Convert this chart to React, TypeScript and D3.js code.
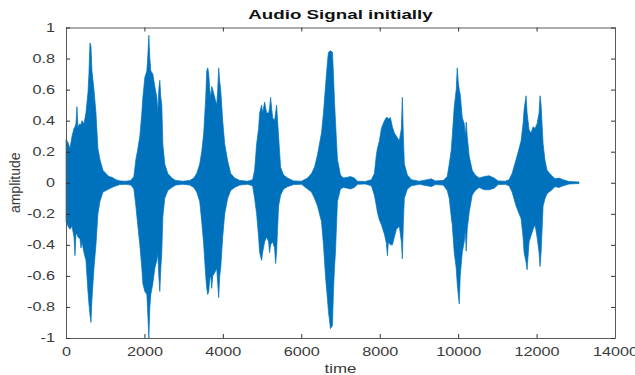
import React, { useEffect, useRef } from 'react';
import * as d3 from 'd3';

// envelope of the waveform (sample index, max, min)
const sampleTime = [
  0, 51, 102, 153, 204, 229, 254, 280, 305, 356, 382, 407, 458, 509, 560, 585, 611, 636, 662, 713, 764, 814, 865, 942, 1018, 1094, 1171, 1273, 1374, 1527, 1654,
  1731, 1782, 1833, 1883, 1934, 1960, 2011, 2062, 2087, 2113, 2138, 2163, 2214, 2265, 2316, 2341, 2367, 2392, 2418, 2443, 2469, 2519, 2596, 2698, 2799, 2978, 3156, 3258,
  3334, 3410, 3461, 3512, 3563, 3589, 3614, 3640, 3665, 3691, 3716, 3741, 3792, 3843, 3869, 3894, 3920, 3945, 3996, 4047, 4123, 4199, 4301, 4429, 4632, 4759,
  4810, 4861, 4912, 4938, 4988, 5014, 5065, 5116, 5166, 5192, 5217, 5268, 5319, 5345, 5370, 5395, 5421, 5472, 5548, 5650, 5803, 6006, 6159,
  6261, 6337, 6414, 6515, 6566, 6617, 6668, 6693, 6744, 6795, 6820, 6846, 6871, 6922, 6999, 7075, 7177, 7253, 7355, 7431, 7635, 7788,
  7864, 7915, 7941, 7992, 8043, 8119, 8170, 8196, 8221, 8272, 8323, 8374, 8425, 8501, 8552, 8577, 8603, 8628, 8705, 8806, 9010, 9213, 9315, 9417, 9620,
  9722, 9773, 9824, 9850, 9901, 9951, 9977, 10002, 10028, 10053, 10104, 10155, 10181, 10206, 10231, 10282, 10359, 10435, 10537, 10664, 10791, 10919, 11020, 11198, 11300,
  11376, 11478, 11554, 11605, 11656, 11682, 11732, 11758, 11809, 11860, 11911, 11962, 12013, 12064, 12089, 12115, 12166, 12217, 12268, 12370, 12471, 12573, 12675, 12828, 13082,
];

const upperEnv = [
  0.28, 0.26, 0.22, 0.3, 0.35, 0.36, 0.38, 0.49, 0.36, 0.38, 0.37, 0.4, 0.38, 0.45, 0.58, 0.7, 0.9, 0.88, 0.72, 0.6, 0.45, 0.22, 0.15, 0.08, 0.06, 0.04, 0.035, 0.02, 0.012, 0.01, 0.015,
  0.04, 0.15, 0.22, 0.3, 0.45, 0.55, 0.68, 0.72, 0.82, 0.95, 0.8, 0.72, 0.7, 0.62, 0.55, 0.45, 0.6, 0.66, 0.55, 0.5, 0.25, 0.12, 0.06, 0.03, 0.015, 0.01, 0.015, 0.03,
  0.06, 0.12, 0.2, 0.32, 0.55, 0.72, 0.74, 0.7, 0.6, 0.55, 0.62, 0.6, 0.55, 0.5, 0.6, 0.74, 0.65, 0.6, 0.4, 0.25, 0.14, 0.06, 0.03, 0.015, 0.01, 0.02,
  0.08, 0.25, 0.35, 0.45, 0.5, 0.45, 0.52, 0.45, 0.45, 0.48, 0.55, 0.42, 0.4, 0.45, 0.5, 0.4, 0.3, 0.1, 0.05, 0.03, 0.012, 0.01, 0.03,
  0.06, 0.1, 0.18, 0.32, 0.45, 0.62, 0.78, 0.84, 0.85, 0.84, 0.7, 0.53, 0.4, 0.15, 0.05, 0.03, 0.035, 0.04, 0.03, 0.01, 0.008, 0.02,
  0.06, 0.18, 0.22, 0.27, 0.35, 0.4, 0.42, 0.42, 0.41, 0.42, 0.36, 0.32, 0.3, 0.27, 0.35, 0.55, 0.3, 0.12, 0.05, 0.02, 0.01, 0.02, 0.025, 0.012, 0.015,
  0.04, 0.12, 0.21, 0.3, 0.49, 0.6, 0.74, 0.65, 0.6, 0.57, 0.42, 0.38, 0.3, 0.39, 0.3, 0.17, 0.08, 0.05, 0.03, 0.04, 0.045, 0.03, 0.012, 0.01, 0.02,
  0.06, 0.15, 0.22, 0.27, 0.38, 0.47, 0.56, 0.45, 0.34, 0.32, 0.36, 0.35, 0.38, 0.45, 0.56, 0.5, 0.25, 0.14, 0.08, 0.05, 0.025, 0.03, 0.02, 0.008, 0.005,
];

const lowerEnv = [
  -0.25, -0.28, -0.3, -0.28, -0.35, -0.47, -0.33, -0.33, -0.35, -0.36, -0.42, -0.38, -0.45, -0.5, -0.7, -0.78, -0.85, -0.9, -0.75, -0.55, -0.4, -0.2, -0.12, -0.06, -0.05, -0.04, -0.03, -0.02, -0.012, -0.01, -0.015,
  -0.04, -0.15, -0.28, -0.4, -0.55, -0.65, -0.7, -0.72, -0.85, -1.0, -0.8, -0.72, -0.65, -0.55, -0.5, -0.45, -0.6, -0.7, -0.55, -0.45, -0.22, -0.1, -0.05, -0.03, -0.015, -0.01, -0.015, -0.03,
  -0.06, -0.12, -0.25, -0.4, -0.6, -0.68, -0.72, -0.7, -0.62, -0.6, -0.68, -0.6, -0.58, -0.55, -0.65, -0.74, -0.6, -0.55, -0.35, -0.2, -0.1, -0.05, -0.03, -0.015, -0.01, -0.02,
  -0.1, -0.2, -0.35, -0.45, -0.5, -0.45, -0.38, -0.35, -0.38, -0.45, -0.4, -0.38, -0.42, -0.52, -0.45, -0.3, -0.15, -0.08, -0.04, -0.025, -0.012, -0.01, -0.04,
  -0.06, -0.1, -0.15, -0.25, -0.4, -0.6, -0.75, -0.83, -0.94, -0.92, -0.7, -0.55, -0.45, -0.12, -0.04, -0.03, -0.035, -0.04, -0.03, -0.01, -0.008, -0.02,
  -0.08, -0.15, -0.19, -0.24, -0.27, -0.33, -0.39, -0.47, -0.38, -0.4, -0.4, -0.35, -0.3, -0.28, -0.38, -0.49, -0.25, -0.1, -0.04, -0.02, -0.01, -0.02, -0.025, -0.012, -0.015,
  -0.05, -0.1, -0.22, -0.27, -0.45, -0.55, -0.65, -0.72, -0.78, -0.6, -0.45, -0.38, -0.3, -0.44, -0.3, -0.19, -0.08, -0.05, -0.03, -0.045, -0.045, -0.035, -0.012, -0.01, -0.02,
  -0.06, -0.15, -0.2, -0.23, -0.35, -0.45, -0.51, -0.56, -0.38, -0.34, -0.3, -0.27, -0.35, -0.45, -0.54, -0.45, -0.15, -0.1, -0.07, -0.05, -0.025, -0.03, -0.02, -0.008, -0.005,
];

const xTicks = [0, 2000, 4000, 6000, 8000, 10000, 12000, 14000];
const yTicks = [-1, -0.8, -0.6, -0.4, -0.2, 0, 0.2, 0.4, 0.6, 0.8, 1];

const font = "'Liberation Sans', Arial, Helvetica, sans-serif";
const textColor = '#3a3a3a';
const axisColor = '#5a5a5a';
const lineColor = '#0072BD';

// the picture is stretched sideways, so widen text the same way
function widen(sel: any, k: number) {
  sel.each(function (this: SVGTextElement) {
    const len = this.getComputedTextLength();
    d3.select(this).attr('textLength', len * k).attr('lengthAdjust', 'spacingAndGlyphs');
  });
}

function App() {
  const svgRef = useRef<SVGSVGElement>(null);

  useEffect(() => {
    const svg = d3.select(svgRef.current);
    svg.selectAll('*').remove();

    const left = 66, right = 615, top = 27.5, bottom = 338;

    const x = d3.scaleLinear().domain([0, 14000]).range([left, right]);
    const y = d3.scaleLinear().domain([-1, 1]).range([bottom, top]);

    const idx = d3.range(sampleTime.length);
    const area = d3.area<number>()
      .x(i => x(sampleTime[i]))
      .y0(i => y(lowerEnv[i]))
      .y1(i => y(upperEnv[i]));

    svg.append('path')
      .attr('d', area(idx))
      .attr('fill', lineColor)
      .attr('stroke', lineColor)
      .attr('stroke-width', 0.7);

    const styleAxis = (g: any) => {
      g.select('.domain').attr('stroke', axisColor).attr('stroke-width', 1);
      g.selectAll('.tick line').attr('stroke', '#333').attr('stroke-width', 1);
      g.selectAll('text').attr('fill', textColor).attr('font-size', 12).attr('font-family', font);
    };

    const xb = svg.append('g')
      .attr('transform', `translate(0,${bottom})`)
      .call(d3.axisBottom(x).tickValues(xTicks).tickSize(-4).tickSizeOuter(0).tickPadding(9).tickFormat(d3.format('d')));
    styleAxis(xb);
    widen(xb.selectAll('text'), 1.35);

    const xt = svg.append('g')
      .attr('transform', `translate(0,${top})`)
      .call(d3.axisTop(x).tickValues(xTicks).tickSize(-4).tickSizeOuter(0).tickFormat(() => ''));
    styleAxis(xt);

    const yl = svg.append('g')
      .attr('transform', `translate(${left},0)`)
      .call(d3.axisLeft(y).tickValues(yTicks).tickSize(-4).tickSizeOuter(0).tickPadding(11).tickFormat(d => String(d)));
    styleAxis(yl);
    widen(yl.selectAll('text'), 1.35);

    const yr = svg.append('g')
      .attr('transform', `translate(${right},0)`)
      .call(d3.axisRight(y).tickValues(yTicks).tickSize(-4).tickSizeOuter(0).tickFormat(() => ''));
    styleAxis(yr);

    const titleText = svg.append('text')
      .attr('x', (left + right) / 2)
      .attr('y', 19)
      .attr('text-anchor', 'middle')
      .attr('font-family', font)
      .attr('font-size', 12.5)
      .attr('font-weight', 'bold')
      .attr('fill', '#111')
      .text('Audio Signal initially');
    widen(titleText, 1.5);

    const xLabel = svg.append('text')
      .attr('x', (left + right) / 2)
      .attr('y', 373)
      .attr('text-anchor', 'middle')
      .attr('font-family', font)
      .attr('font-size', 13)
      .attr('fill', textColor)
      .text('time');
    widen(xLabel, 1.3);

    svg.append('text')
      .attr('transform', `translate(20,${(top + bottom) / 2}) rotate(-90)`)
      .attr('text-anchor', 'middle')
      .attr('font-family', font)
      .attr('font-size', 14)
      .attr('fill', textColor)
      .text('amplitude');
  }, []);

  return (
    <svg ref={svgRef} width={635} height={375}
      style={{ position: 'absolute', left: 0, top: 0, background: '#fff' }}></svg>
  );
}

export default App;
